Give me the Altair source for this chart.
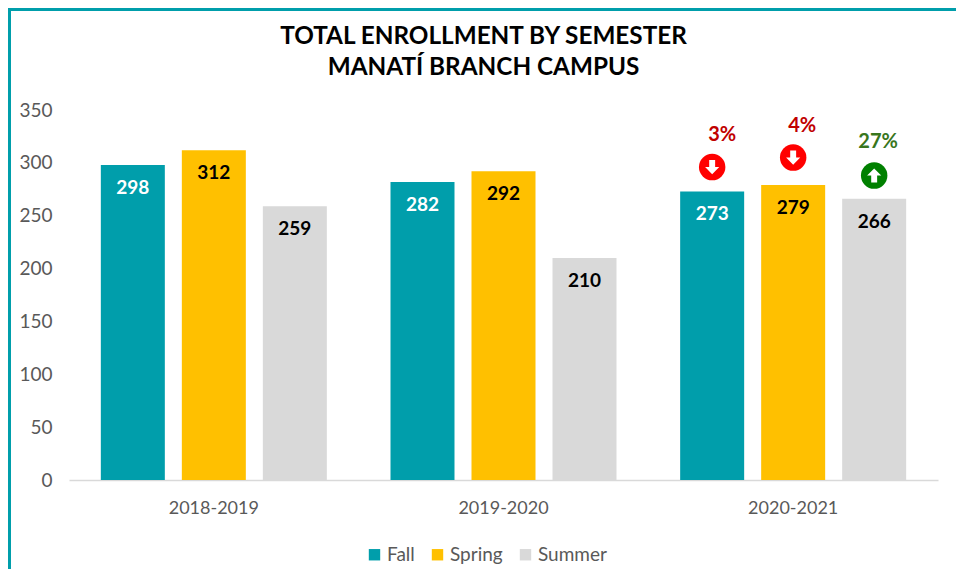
import altair as alt
import pandas as pd

years = ["2018-2019", "2019-2020", "2020-2021"]
terms = ["Fall", "Spring", "Summer"]
term_colors = ["#009EAB", "#FFC000", "#D9D9D9"]
fall = [298, 282, 273]
spring = [312, 292, 279]
summer = [259, 210, 266]

change_terms = ["Fall", "Spring", "Summer"]
change_labels = ["3%", "4%", "27%"]
change_label_levels = [326, 335, 320]
change_icon_levels = [296, 305, 288]
change_text_colors = ["#C00000", "#C00000", "#38761D"]
change_icon_colors = ["#FF0000", "#FF0000", "#008000"]
change_dirs = ["down", "down", "up"]

FONT = "Lato"
HEAVY = "Lato"

rows = []
for t, series in zip(terms, [fall, spring, summer]):
    for y, v in zip(years, series):
        rows.append({"year": y, "term": t, "value": v})
df = pd.DataFrame(rows)

x = alt.X("year:N", sort=years, title=None,
          scale=alt.Scale(paddingInner=0, paddingOuter=0),
          axis=alt.Axis(labelAngle=0, labelFont=FONT, labelFontSize=18, labelColor="#595959",
                        labelPadding=19, ticks=False, domainColor="#D9D9D9", domainWidth=1.5, grid=False))
xo = alt.XOffset("term:N", sort=terms,
                 scale=alt.Scale(domain=terms, paddingInner=0.21, paddingOuter=0.393))
yscale = alt.Scale(domain=[0, 350], nice=False)

bars = alt.Chart(df).mark_bar(size=64).encode(
    x=x, xOffset=xo,
    y=alt.Y("value:Q", scale=yscale, title=None,
            axis=alt.Axis(values=[0, 50, 100, 150, 200, 250, 300, 350], labelFont=FONT, labelFontSize=19,
                          labelColor="#595959", labelPadding=17, ticks=False, domain=False, grid=False)),
    color=alt.Color("term:N", sort=terms, scale=alt.Scale(domain=terms, range=term_colors),
                    legend=alt.Legend(title=None, orient="none", legendX=296, legendY=435, direction="horizontal",
                                      columns=3, symbolType="square", symbolSize=130, symbolStrokeWidth=0,
                                      labelFont=FONT, labelFontSize=19, labelColor="#595959",
                                      columnPadding=13, labelOffset=3)),
)

labels = alt.Chart(df).mark_text(font=HEAVY, fontWeight="bold", fontSize=19, dy=23, baseline="middle").encode(
    x=alt.X("year:N", sort=years), xOffset=xo,
    y=alt.Y("value:Q", scale=yscale),
    text="value:Q",
    color=alt.condition(alt.datum.term == "Fall", alt.value("white"), alt.value("black")),
)

ann_layers = []
icon_dx = [6, 4, 2]
text_dx = [10, 9, 4]
ARROWS = {"down": "M0,1L1,0L0.42,0L0.42,-1L-0.42,-1L-0.42,0L-1,0Z",
          "up": "M0,-1L1,0L0.42,0L0.42,1L-0.42,1L-0.42,0L-1,0Z"}
for i in range(3):
    d = pd.DataFrame({"year": [years[2]], "term": [change_terms[i]], "icon": [change_icon_levels[i]],
                      "lab": [change_label_levels[i]], "txt": [change_labels[i]]})
    base = alt.Chart(d)
    common = dict(x=alt.X("year:N", sort=years), xOffset=xo)
    ann_layers.append(base.mark_point(filled=True, shape="circle", size=700, opacity=1,
                                       color=change_icon_colors[i], xOffset=icon_dx[i]).encode(
        y=alt.Y("icon:Q", scale=yscale), **common))
    ann_layers.append(base.mark_point(filled=True, shape=ARROWS[change_dirs[i]], size=200, opacity=1,
                                       color="white", xOffset=icon_dx[i]).encode(
        y=alt.Y("icon:Q", scale=yscale), **common))
    ann_layers.append(base.mark_text(font=HEAVY, fontWeight="bold", fontSize=20, baseline="middle",
                                      color=change_text_colors[i], dx=text_dx[i]).encode(
        y=alt.Y("lab:Q", scale=yscale), text="txt:N", **common))

frame = alt.Chart(pd.DataFrame({"a": [0]})).mark_rect(filled=False, stroke="#009EAB", strokeWidth=3, clip=False).encode(
    x=alt.value(-59.5), x2=alt.value(893), y=alt.value(-100.5), y2=alt.value(480))

chart = alt.layer(frame, bars, labels, *ann_layers).resolve_scale(color="independent").properties(
    width=869, height=370,
    padding={"left": 61, "top": 102, "right": 18, "bottom": 89},
    autosize=alt.AutoSizeParams(type="none"),
    title=alt.TitleParams(text=["TOTAL ENROLLMENT BY SEMESTER", "MANATÍ BRANCH CAMPUS"], font=HEAVY,
                          fontWeight="bold", fontSize=24.3, color="black", lineHeight=31,
                          anchor="middle", dx=-20, offset=0, dy=72),
).configure_view(stroke=None)

chart.save("out.html", embed_options={"renderer": "svg", "actions": False})
